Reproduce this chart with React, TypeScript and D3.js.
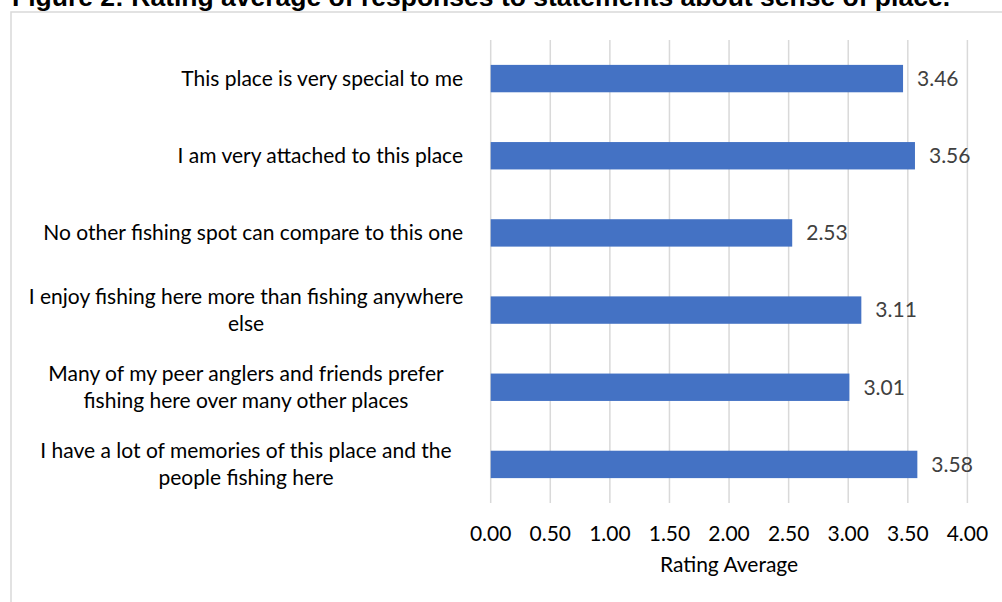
import React from 'react';
import * as d3 from 'd3';

// statements, top to bottom ("\n" = where Excel wrapped the label)
const statements = [
  'This place is very special to me',
  'I am very attached to this place',
  'No other fishing spot can compare to this one',
  'I enjoy fishing here more than fishing anywhere\nelse',
  'Many of my peer anglers and friends prefer\nfishing here over many other places',
  'I have a lot of memories of this place and the\npeople fishing here',
];
const ratings = [3.46, 3.56, 2.53, 3.11, 3.01, 3.58];
const ticks = [0, 0.5, 1, 1.5, 2, 2.5, 3, 3.5, 4];

const title = 'Figure 2: Rating average of responses to statements about sense of place.';
const axisTitle = 'Rating Average';

const W = 1002;
const H = 602;
const FONT = 'Lato, "Open Sans", sans-serif';
const FS = 21;
const fmt = d3.format('.2f');

const App = () => {
  const x = d3.scaleLinear().domain([0, 4]).range([490.7, 967.4]);
  const y = d3.scaleBand<number>()
    .domain(d3.range(statements.length))
    .range([40, 503])
    .paddingInner(0.645)
    .paddingOuter(0.3225);

  const lineGap = 27;

  return (
    <div style={{ position: 'absolute', left: 0, top: 0 }}>
      <svg width={W} height={H} style={{ display: 'block', background: '#fff' }}>
        {/* chart frame */}
        <rect x={11} y={12} width={W} height={H} fill="#fff" stroke="#d9d9d9" strokeWidth={1.5} />

        {/* figure caption, cropped at the top in the source */}
        <text x={12} y={6} fontFamily='"Liberation Sans", Arial, sans-serif' fontWeight="bold"
          fontSize={25.5} textLength={938} lengthAdjust="spacingAndGlyphs" fill="#000">{title}</text>

        {/* gridlines */}
        {ticks.map(t => (
          <line key={t} x1={x(t)} x2={x(t)} y1={40} y2={503} stroke="#d9d9d9" strokeWidth={1.5} />
        ))}

        {/* bars */}
        {ratings.map((v, i) => (
          <rect key={i} x={x(0)} y={y(i)} width={x(v) - x(0)} height={y.bandwidth()}
            fill="#4472c4" />
        ))}

        {/* value labels */}
        {ratings.map((v, i) => (
          <text key={i} x={x(v) + 14} y={y(i)! + y.bandwidth() / 2} dy="0.35em"
            fontFamily={FONT} fontSize={FS} fill="#404040">{fmt(v)}</text>
        ))}

        {/* category labels */}
        {statements.map((s, i) => {
          const lines = s.split('\n');
          const cy = y(i)! + y.bandwidth() / 2;
          const wrapped = lines.length > 1;
          return (
            <text key={i} fontFamily={FONT} fontSize={FS} fill="#000"
              textAnchor={wrapped ? 'middle' : 'end'}>
              {lines.map((l, j) => (
                <tspan key={j} x={wrapped ? 246 : 463}
                  y={cy + (j - (lines.length - 1) / 2) * lineGap} dy="0.35em">{l}</tspan>
              ))}
            </text>
          );
        })}

        {/* x tick labels */}
        {ticks.map(t => (
          <text key={t} x={x(t)} y={534} dy="0.35em" textAnchor="middle"
            fontFamily={FONT} fontSize={FS} fill="#000">{fmt(t)}</text>
        ))}

        <text x={(x(0) + x(4)) / 2} y={565} dy="0.35em" textAnchor="middle"
          fontFamily={FONT} fontSize={FS} fill="#000">{axisTitle}</text>
      </svg>
    </div>
  );
};

export default App;
